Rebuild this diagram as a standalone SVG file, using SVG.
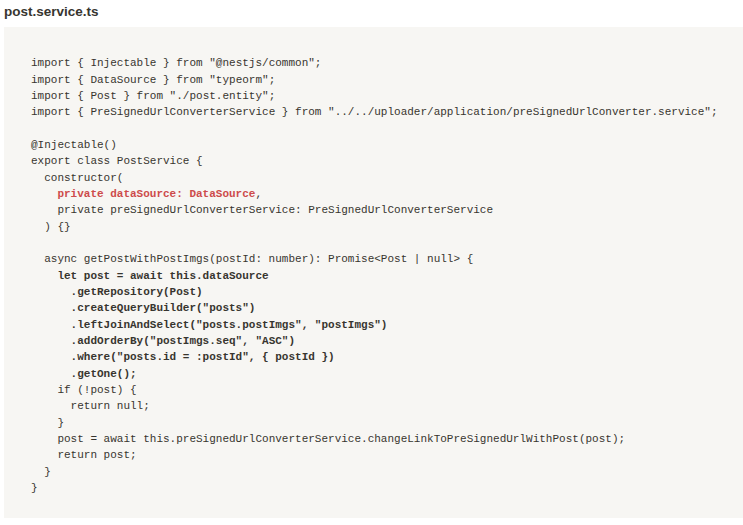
<svg xmlns="http://www.w3.org/2000/svg" width="743" height="525" viewBox="0 0 743 525">
<style>
text.c{font-family:"Liberation Mono",monospace;font-size:11px;fill:#37352f}
.r{fill:#cd4b4b;font-weight:bold}
</style>
<rect width="743" height="525" fill="#fff"/>
<text x="4" y="16" font-family="Liberation Sans,Arial,sans-serif" font-size="13.5" font-weight="bold" fill="#37352f">post.service.ts</text>
<rect x="4" y="27" width="739" height="491" fill="#f7f6f3"/>
<g id="code" font-family="Liberation Mono, monospace" font-size="11">
<text class="c" x="31" y="66">import { Injectable } from "@nestjs/common";</text>
<text class="c" x="31" y="82.5">import { DataSource } from "typeorm";</text>
<text class="c" x="31" y="99">import { Post } from "./post.entity";</text>
<text class="c" x="31" y="115">import { PreSignedUrlConverterService } from "../../uploader/application/preSignedUrlConverter.service";</text>
<text class="c" x="31" y="148">@Injectable()</text>
<text class="c" x="31" y="164">export class PostService {</text>
<text class="c" x="44.2" y="181">constructor(</text>
<text class="c" x="57.4" y="197"><tspan class="r">private dataSource: DataSource</tspan>,</text>
<text class="c" x="57.4" y="213">private preSignedUrlConverterService: PreSignedUrlConverterService</text>
<text class="c" x="44.2" y="230">) {}</text>
<text class="c" x="44.2" y="262">async getPostWithPostImgs(postId: number): Promise&lt;Post | null&gt; {</text>
<text class="c r" x="57.4" y="279">let post = await this.dataSource</text>
<text class="c r" x="70.6" y="295">.getRepository(Post)</text>
<text class="c r" x="70.6" y="311">.createQueryBuilder("posts")</text>
<text class="c r" x="70.6" y="328">.leftJoinAndSelect("posts.postImgs", "postImgs")</text>
<text class="c r" x="70.6" y="344">.addOrderBy("postImgs.seq", "ASC")</text>
<text class="c r" x="70.6" y="360">.where("posts.id = :postId", { postId })</text>
<text class="c r" x="70.6" y="377">.getOne();</text>
<text class="c" x="57.4" y="393">if (!post) {</text>
<text class="c" x="70.6" y="409">return null;</text>
<text class="c" x="57.4" y="426">}</text>
<text class="c" x="57.4" y="442">post = await this.preSignedUrlConverterService.changeLinkToPreSignedUrlWithPost(post);</text>
<text class="c" x="57.4" y="458">return post;</text>
<text class="c" x="44.2" y="475">}</text>
<text class="c" x="31" y="491">}</text>
</g>
</svg>
